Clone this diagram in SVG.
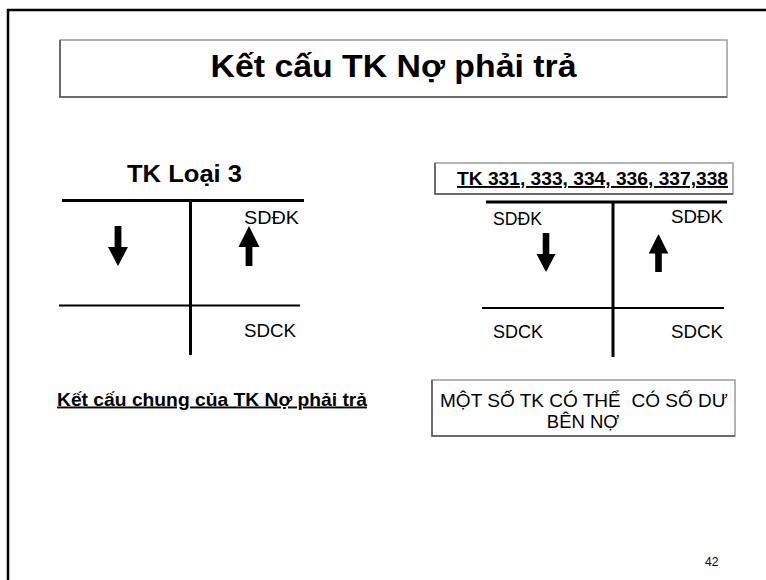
<svg xmlns="http://www.w3.org/2000/svg" width="766" height="580" viewBox="0 0 766 580">
<style>
.t{font-family:"Liberation Sans",Arial,sans-serif;fill:#000}
.b{font-weight:bold}
.u{text-decoration:underline}
.ln{stroke:#000;fill:none}
.arr{fill:#000;stroke:none}
.box{fill:#fff;stroke:#9a9a9a;stroke-width:1.5}
.sh{fill:none;stroke:#555;stroke-width:1.5}
</style>
<rect x="0" y="0" width="766" height="580" fill="#fff"/>
<rect x="8" y="10" width="800" height="620" fill="none" stroke="#000" stroke-width="2.5"/>

<g id="title">
  <rect class="box" x="60" y="40" width="667" height="57"/>
  <path class="sh" d="M60 40 V97 H727"/>
  <text class="t b" x="393.5" y="77" font-size="32" text-anchor="middle" textLength="366" lengthAdjust="spacingAndGlyphs">Kết cấu TK Nợ phải trả</text>
</g>

<g id="left-account">
  <text class="t b" x="184.5" y="182" font-size="24.5" text-anchor="middle" textLength="115" lengthAdjust="spacingAndGlyphs">TK Loại 3</text>
  <g class="ln">
    <path d="M62 200.5 H304" stroke-width="3"/>
    <path d="M190.5 200 V355" stroke-width="3"/>
    <path d="M59 305.5 H300" stroke-width="2"/>
  </g>
  <polygon class="arr" points="114.6,226 121.4,226 121.4,247 128,247 118,266 108,247 114.6,247"/>
  <polygon class="arr" points="249,226 259.5,247 252.4,247 252.4,266 245.6,266 245.6,247 238.5,247"/>
  <text class="t" x="244" y="224" font-size="19" textLength="55" lengthAdjust="spacingAndGlyphs">SDĐK</text>
  <text class="t" x="244" y="337" font-size="19" textLength="52" lengthAdjust="spacingAndGlyphs">SDCK</text>
</g>

<g id="left-caption">
  <text class="t b u" x="57" y="405.5" font-size="19" textLength="310" lengthAdjust="spacingAndGlyphs">Kết cấu chung của TK Nợ phải trả</text>
</g>

<g id="right-header">
  <rect class="box" x="435" y="163" width="298" height="31"/>
  <path class="sh" d="M435 163 V194 H733"/>
  <text class="t b u" x="592.5" y="185" font-size="19" text-anchor="middle" textLength="271" lengthAdjust="spacingAndGlyphs">TK 331, 333, 334, 336, 337,338</text>
</g>

<g id="right-account">
  <g class="ln">
    <path d="M486 202 H727" stroke-width="3"/>
    <path d="M613 202 V357" stroke-width="3"/>
    <path d="M482 308 H724" stroke-width="2"/>
  </g>
  <polygon class="arr" points="542.7,233 549.3,233 549.3,254 555.5,254 546,272 536.5,254 542.7,254"/>
  <polygon class="arr" points="658.5,234 668.3,253.5 661.8,253.5 661.8,272 655.2,272 655.2,253.5 648.7,253.5"/>
  <text class="t" x="493" y="225" font-size="19" textLength="49" lengthAdjust="spacingAndGlyphs">SDĐK</text>
  <text class="t" x="671" y="223" font-size="19" textLength="52" lengthAdjust="spacingAndGlyphs">SDĐK</text>
  <text class="t" x="493" y="338" font-size="19" textLength="50" lengthAdjust="spacingAndGlyphs">SDCK</text>
  <text class="t" x="671" y="338" font-size="19" textLength="52" lengthAdjust="spacingAndGlyphs">SDCK</text>
</g>

<g id="right-note">
  <rect class="box" x="432" y="380" width="303" height="56"/>
  <path class="sh" d="M432 380 V436 H735"/>
  <text class="t" x="584" y="407" font-size="18.5" text-anchor="middle" textLength="288" lengthAdjust="spacingAndGlyphs" xml:space="preserve">MỘT SỐ TK CÓ THỂ  CÓ SỐ DƯ</text>
  <text class="t" x="583" y="428" font-size="18.5" text-anchor="middle">BÊN NỢ</text>
</g>

<g id="page-number">
  <text class="t" x="705" y="566" font-size="12">42</text>
</g>
</svg>
